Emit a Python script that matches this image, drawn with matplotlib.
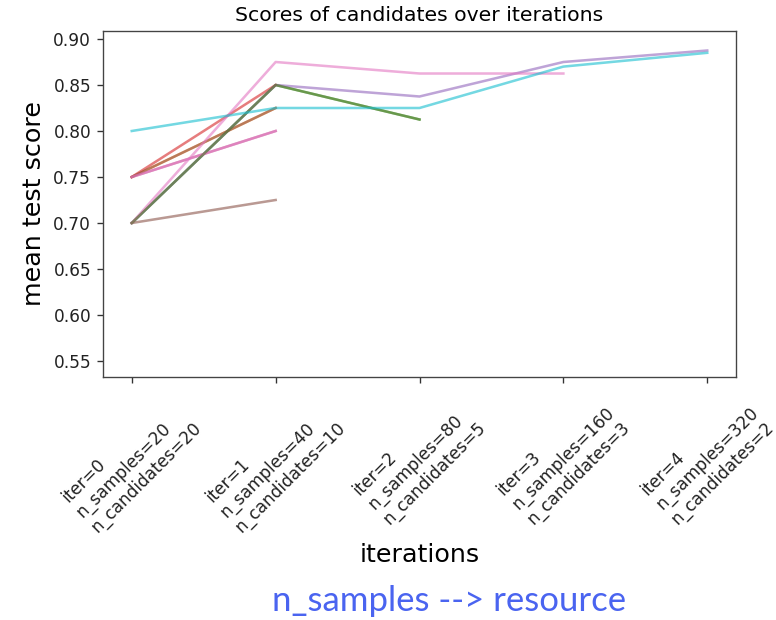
import numpy as np
import matplotlib
matplotlib.use("Agg")
import matplotlib.pyplot as plt

nan = np.nan
iters = [0, 1, 2, 3, 4]
n_samples = [20, 40, 80, 160, 320]
n_candidates = [20, 10, 5, 3, 2]

# one list per drawn candidate (NaN where the candidate was eliminated)
s_orange = [0.75, 0.825, nan, nan, nan]
s_green = [0.70, 0.85, 0.8125, nan, nan]
s_red = [0.75, 0.85, nan, nan, nan]
s_red2 = [0.75, 0.80, nan, nan, nan]
s_purple = [0.70, 0.85, 0.8375, 0.875, 0.8875]
s_brown = [0.70, 0.725, nan, nan, nan]
s_brown2 = [0.75, 0.825, nan, nan, nan]
s_pink = [0.70, 0.875, 0.8625, 0.8625, nan]
s_pink2 = [0.75, 0.80, nan, nan, nan]
s_olive = [0.70, 0.85, 0.8125, nan, nan]
s_cyan = [0.80, 0.825, 0.825, 0.87, 0.885]

series = [
    (s_orange, "tab:orange"),
    (s_green, "tab:green"),
    (s_red, "tab:red"),
    (s_red2, "#c0508a"),
    (s_purple, "tab:purple"),
    (s_brown, "tab:brown"),
    (s_brown2, "tab:brown"),
    (s_pink, "tab:pink"),
    (s_pink2, "tab:pink"),
    (s_olive, "#5a7a2a"),
    (s_cyan, "tab:cyan"),
]

labels = [f"iter={i}\nn_samples={s}\nn_candidates={c}"
          for i, s, c in zip(iters, n_samples, n_candidates)]

fig = plt.figure(figsize=(776 / 122, 620 / 122), dpi=122)
ax = fig.add_axes([103 / 776, 1 - 377 / 620, (736 - 103) / 776, (377 - 31) / 620])

for vals, col in series:
    ax.plot(iters, vals, color=col, alpha=0.6, lw=1.5)

ax.set_xlim(-0.2, 4.2)
ax.set_ylim(0.5326, 0.9087)
ax.set_yticks([0.55, 0.60, 0.65, 0.70, 0.75, 0.80, 0.85, 0.90])
ax.set_xticks(iters)
ax.set_xticklabels(labels, rotation=45, multialignment="left")
ax.set_title("Scores of candidates over iterations")
ax.set_ylabel("mean test score", fontsize=15)
ax.set_xlabel("iterations", fontsize=15)
for sp in ax.spines.values():
    sp.set_color("#444444")
ax.tick_params(colors="#333333", labelcolor="#222222")

fig.text(449 / 776, 1 - 601 / 620, "n_samples --> resource", color="#4a64f0",
         fontsize=20.5, family="Lato", ha="center", va="center")

fig.savefig("out.png", dpi=122)
